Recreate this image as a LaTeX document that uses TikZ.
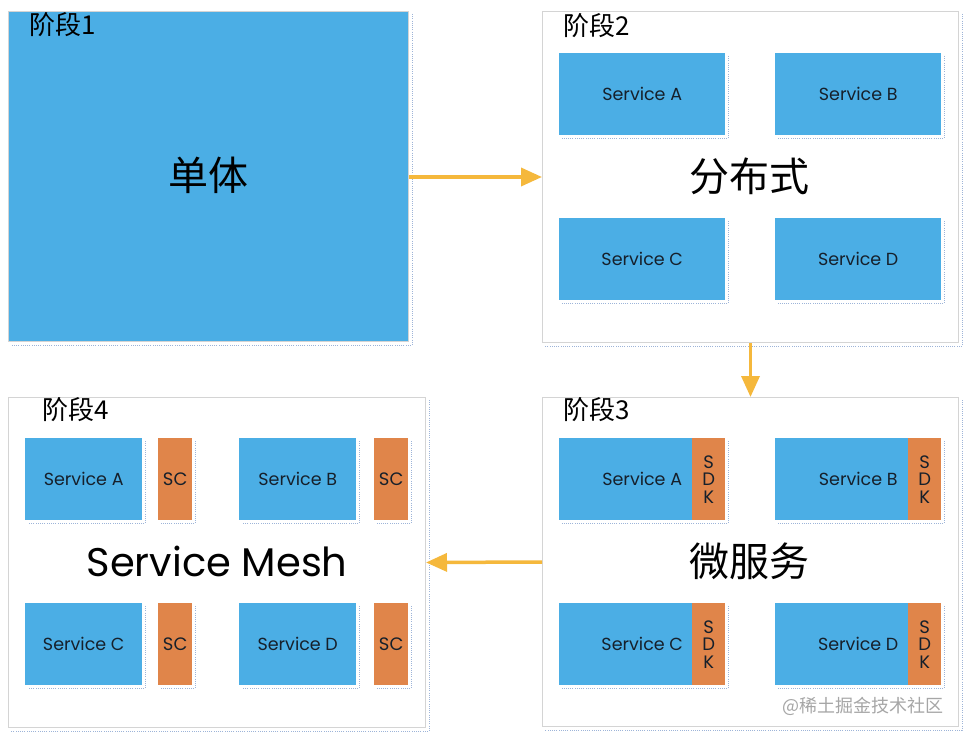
\documentclass[tikz,border=0pt]{standalone}
\usepackage{fontspec}
\setmainfont{Poppins}
\newfontfamily\cjk{Noto Sans CJK SC}
\usetikzlibrary{arrows.meta}
\definecolor{svcblue}{HTML}{4BAEE5}
\definecolor{sdkorange}{HTML}{E0854A}
\definecolor{arrowgold}{HTML}{F5B83C}
\definecolor{panelgray}{HTML}{D4D4D4}
\definecolor{dotblue}{HTML}{9DB4D8}
\definecolor{txtdark}{HTML}{16202B}
\tikzset{
  panel/.style={draw=panelgray, line width=1pt, fill=white, inner sep=0pt, anchor=north west},
  svc/.style={fill=svcblue, draw=none, inner sep=0pt, anchor=north west, minimum height=82pt, text=txtdark, font=\fontsize{17.5}{20}\selectfont},
  sdk/.style={fill=sdkorange, draw=none, inner sep=0pt, anchor=north west, minimum height=82pt, minimum width=33pt, text=txtdark, font=\fontsize{18}{17.5}\selectfont, align=center},
  title/.style={anchor=west, font=\cjk\fontsize{26}{28}\selectfont, text=black},
  big/.style={font=\cjk\fontsize{40}{44}\selectfont, text=black},
  flow/.style={draw=arrowgold, line width=3.5pt, -{Triangle[length=21pt,width=18pt]}},
  shadowdots/.style={draw=dotblue, line width=0.8pt, dash pattern=on 0.8pt off 1.4pt}
}
\newcommand{\dotshadow}[1]{%
  \draw[shadowdots] ([xshift=3pt,yshift=-3pt]#1.north east) -- ([xshift=3pt,yshift=-3pt]#1.south east) -- ([xshift=3pt,yshift=-3pt]#1.south west);}
\begin{document}
\begin{tikzpicture}[x=1pt,y=-1pt]
\useasboundingbox (0,0) rectangle (968,738);
\fill[white] (0,0) rectangle (968,738);
% panels
\node[panel, fill=svcblue, minimum width=400pt, minimum height=330pt] (p1) at (8,11) {};
\node[panel, minimum width=416pt, minimum height=331pt] (p2) at (542,11) {};
\node[panel, minimum width=416pt, minimum height=329pt] (p3) at (542,397) {};
\node[panel, minimum width=417pt, minimum height=330pt] (p4) at (8,397) {};
\dotshadow{p1}\dotshadow{p2}\dotshadow{p3}\dotshadow{p4}
% titles
\node[title] (t1) at (26,25) {阶段1};
\node[title] (t2) at (560,26) {阶段2};
\node[title] (t3) at (560,410) {阶段3};
\node[title] (t4) at (39,410) {阶段4};
% stage 1
\node[big] (c1) at (208,175) {单体};
% stage 2
\node[svc, minimum width=166pt] (s2a) at (559,53) {Service A};
\node[svc, minimum width=166pt] (s2b) at (775,53) {Service B};
\node[svc, minimum width=166pt] (s2c) at (559,218) {Service C};
\node[svc, minimum width=166pt] (s2d) at (775,218) {Service D};
\dotshadow{s2a}\dotshadow{s2b}\dotshadow{s2c}\dotshadow{s2d}
\node[big] (c2) at (749,176) {分布式};
% stage 3
\node[svc, minimum width=166pt] (s3a) at (559,438) {Service A};
\node[svc, minimum width=166pt] (s3b) at (775,438) {Service B};
\node[svc, minimum width=166pt] (s3c) at (559,603) {Service C};
\node[svc, minimum width=166pt] (s3d) at (775,603) {Service D};
\node[sdk] (k3a) at (692,438) {S\\D\\K};
\node[sdk] (k3b) at (908,438) {S\\D\\K};
\node[sdk] (k3c) at (692,603) {S\\D\\K};
\node[sdk] (k3d) at (908,603) {S\\D\\K};
\dotshadow{s3a}\dotshadow{s3b}\dotshadow{s3c}\dotshadow{s3d}
\node[big] (c3) at (749,561) {微服务};
% stage 4
\node[svc, minimum width=117pt] (s4a) at (25,438) {Service A};
\node[svc, minimum width=117pt] (s4b) at (239,438) {Service B};
\node[svc, minimum width=117pt] (s4c) at (25,603) {Service C};
\node[svc, minimum width=117pt] (s4d) at (239,603) {Service D};
\node[sdk, minimum width=34pt] (sc4a) at (158,438) {SC};
\node[sdk, minimum width=34pt] (sc4b) at (374,438) {SC};
\node[sdk, minimum width=34pt] (sc4c) at (158,603) {SC};
\node[sdk, minimum width=34pt] (sc4d) at (374,603) {SC};
\dotshadow{s4a}\dotshadow{s4b}\dotshadow{s4c}\dotshadow{s4d}
\dotshadow{sc4a}\dotshadow{sc4b}\dotshadow{sc4c}\dotshadow{sc4d}
\node[font=\fontsize{40}{44}\selectfont, text=black] (c4) at (217,561) {Service Mesh};
% arrows
\draw[flow] (p1.east |- 0,177) -- (p2.west |- 0,177);
\draw[flow] (p2.south) -- (p3.north);
\draw[flow] (p3.west) -- (p4.east);
% watermark
\node[font=\cjk\fontsize{18}{20}\selectfont, text=black!35, anchor=east] (wm) at (947,706) {@稀土掘金技术社区};
\end{tikzpicture}
\end{document}
